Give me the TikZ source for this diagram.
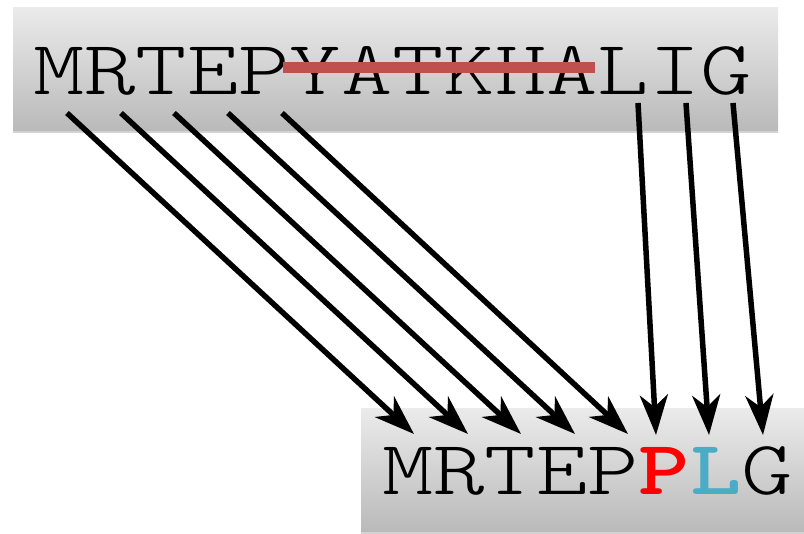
\documentclass[tikz,border=0pt]{standalone}
\usepackage{xcolor}
\usepackage{graphicx}
\usepackage{tikz}
\usetikzlibrary{arrows.meta,shadows}
\definecolor{seqStrike}{HTML}{C0504D}
\definecolor{seqRed}{HTML}{FF0000}
\definecolor{seqCyan}{HTML}{4BACC6}
\definecolor{seqTop}{HTML}{EBEBEB}
\definecolor{seqBottom}{HTML}{BABABA}
\newcommand{\seqtext}[1]{\scalebox{1.27}[1]{\fontsize{77}{77}\fontseries{l}\ttfamily\selectfont #1}}
\tikzset{
  seq diagram/.style={x=1pt, y=-1pt},
  seq box/.style={rectangle, top color=seqTop, bottom color=seqBottom,
    draw=none, inner sep=0pt, anchor=north west,
    drop shadow={shadow xshift=0pt, shadow yshift=-3pt, opacity=0.35}},
  seq text/.style={anchor=base west, inner sep=0pt},
  seq arrow/.style={-{Stealth[length=40pt, width=28pt, inset=12pt]},
    draw=black, line width=5.5pt},
  seq strike/.style={draw=seqStrike, line width=11pt}
}

\begin{document}
\begin{tikzpicture}[seq diagram]
\useasboundingbox (0,0) rectangle (804,534);
\node[seq box, minimum width=765pt, minimum height=123pt] (topbox) at (13,7) {};
\node[seq box, minimum width=460pt, minimum height=123pt] (botbox) at (361,408) {};
\node[seq text] (toptext) at (33,95) {\seqtext{MRTEPYATKHALIG}};
\node[seq text] (bottext) at (382,495)
  {\seqtext{MRTEP\textcolor{seqRed}{\bfseries P}\textcolor{seqCyan}{\bfseries L}G}};
\coordinate (cutfrom) at (283,67.5);
\coordinate (cutto) at (595,67.5);
\draw[seq strike] (cutfrom) -- (cutto);
\foreach \i/\sx/\ex in {1/67/414,2/121/468,3/174/521,4/228/575,5/282/628}{
  \coordinate (from\i) at (\sx,113);
  \coordinate (to\i) at (\ex,434);
  \draw[seq arrow] (from\i) -- (to\i);
}
\foreach \i/\sx/\ex in {6/638/656,7/686/709,8/733/763}{
  \coordinate (from\i) at (\sx,103);
  \coordinate (to\i) at (\ex,435);
  \draw[seq arrow] (from\i) -- (to\i);
}
\end{tikzpicture}
\end{document}
